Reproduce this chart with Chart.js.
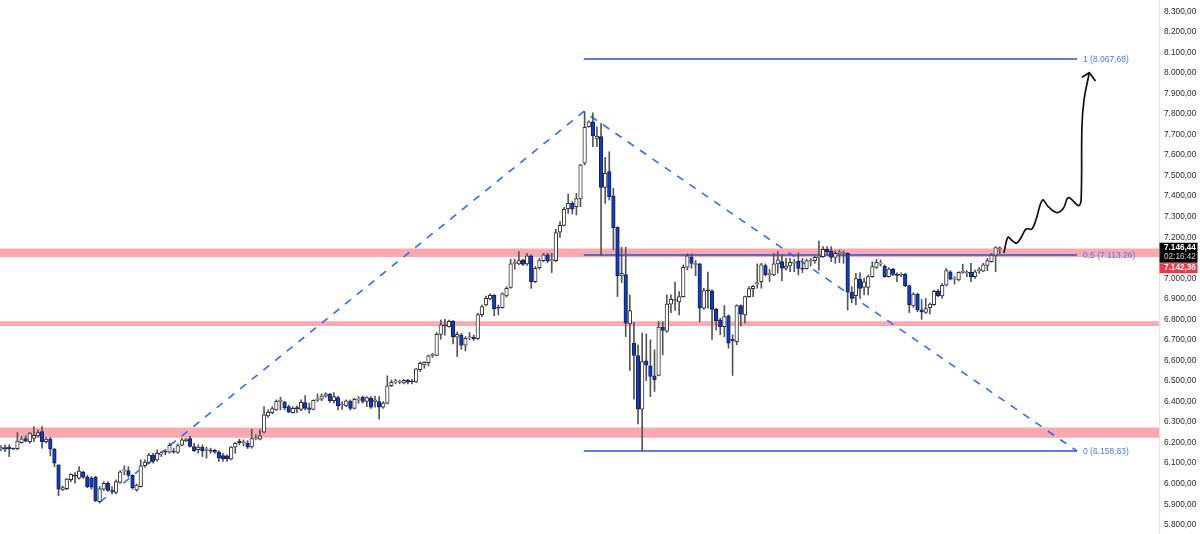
<!DOCTYPE html>
<html>
<head>
<meta charset="utf-8">
<style>
html, body { margin: 0; padding: 0; background: #fff; }
canvas { display: block; }
</style>
<script src="https://cdn.jsdelivr.net/npm/chart.js@4"></script>
</head>
<body>
<canvas id="chart" width="1200" height="534"></canvas>
<script>
const opens = [6171,6176,6178,6170,6170,6200,6220,6204,6220,6233,
6254,6204,6218,6169,6092,5970,5976,6019,6041,6027,
6056,6033,6027,6032,5913,5973,6002,5967,5957,6006,
6062,6064,6041,5970,5986,6088,6103,6139,6116,6145,
6156,6153,6158,6152,6187,6210,6220,6181,6165,6178,
6161,6163,6163,6153,6137,6135,6119,6178,6208,6200,
6197,6179,6218,6217,6251,6330,6346,6359,6401,6398,
6375,6346,6370,6362,6395,6369,6362,6406,6411,6426,
6435,6404,6419,6383,6379,6401,6367,6408,6421,6400,
6416,6400,6400,6372,6392,6477,6496,6494,6490,6503,
6499,6495,6555,6578,6589,6625,6625,6727,6773,6765,
6792,6713,6724,6674,6710,6714,6706,6823,6870,6899,
6917,6859,6857,6914,6955,7073,7070,7089,7070,7109,
6984,7052,7086,7114,7086,7086,7224,7258,7339,7365,
7349,7386,7560,7738,7762,7681,7690,7443,7519,7401,
7248,7011,7018,6778,6684,6624,6363,6598,6574,6525,
6527,6763,6742,6874,6892,6885,6911,7054,7103,7067,
7070,6854,6944,6939,6849,6798,6765,6817,6703,6692,
6867,6822,6911,6950,6974,6984,7062,7018,7017,7070,
7081,7048,7060,7074,7084,7050,7047,7084,7086,7102,
7105,7141,7134,7102,7121,7122,7121,6933,6915,6996,
6956,6956,7008,7053,7069,7060,7008,7045,7019,7015,
7021,6964,6865,6923,6846,6834,6857,6872,6938,6914,
6967,7032,6996,6992,7029,7026,7030,7008,7037,7035,
7063,7081,7112,7144];
const highs = [6186,6189,6189,6173,6249,6230,6233,6249,6278,6262,
6278,6225,6225,6173,6092,5989,6025,6048,6054,6083,
6061,6041,6035,6035,5986,6010,6010,5986,6019,6064,
6087,6083,6044,5999,6116,6116,6148,6148,6165,6156,
6168,6197,6173,6194,6221,6221,6230,6197,6189,6189,
6178,6173,6168,6161,6148,6140,6181,6200,6217,6213,
6210,6265,6238,6262,6376,6359,6375,6408,6421,6400,
6383,6375,6379,6408,6429,6392,6408,6437,6437,6443,
6440,6443,6427,6400,6408,6408,6416,6424,6427,6424,
6424,6427,6424,6400,6525,6505,6508,6505,6508,6508,
6508,6562,6593,6594,6627,6635,6736,6797,6800,6797,
6794,6739,6732,6716,6736,6724,6830,6870,6914,6924,
6920,6870,6930,6959,7093,7093,7130,7093,7122,7114,
7057,7097,7122,7122,7122,7239,7276,7345,7410,7373,
7414,7555,7811,7767,7806,7738,7754,7589,7616,7438,
7251,7151,7151,6919,6785,6676,6733,6729,6700,6652,
6789,6789,6919,6919,6981,6935,7065,7119,7119,7086,
7073,6952,7030,6944,6854,6806,6867,6822,6725,6871,
6871,6914,6960,6966,7070,7073,7070,7044,7122,7130,
7114,7097,7097,7092,7125,7097,7092,7097,7108,7181,
7154,7154,7154,7134,7138,7134,7125,6959,7024,7027,
7000,7016,7081,7092,7089,7065,7052,7048,7027,7027,
7024,6967,6930,6927,6897,6902,6881,6943,6946,6975,
7048,7037,7008,7032,7069,7037,7073,7040,7053,7073,
7097,7121,7154,7154];
const lows = [6161,6156,6132,6166,6165,6197,6204,6197,6205,6226,
6173,6197,6135,6083,5941,5967,5970,6010,6002,6022,
6025,5980,5973,5913,5905,5967,5962,5950,5950,6002,
6043,6032,5973,5963,5983,6080,6096,6100,6109,6132,
6140,6148,6148,6148,6184,6205,6178,6156,6148,6132,
6124,6148,6148,6108,6108,6108,6116,6148,6189,6184,
6171,6173,6213,6213,6247,6323,6340,6356,6359,6359,
6346,6343,6346,6356,6359,6343,6359,6400,6404,6421,
6395,6392,6359,6362,6375,6359,6364,6392,6392,6375,
6367,6372,6314,6367,6388,6473,6486,6486,6486,6486,
6486,6492,6546,6562,6573,6615,6622,6703,6723,6762,
6680,6619,6654,6646,6700,6697,6703,6813,6865,6895,
6817,6822,6854,6908,6951,7044,7065,7063,7063,6951,
6979,7044,7081,7076,7028,7081,7199,7255,7316,7313,
7308,7349,7552,7735,7641,7641,7113,7365,7381,7138,
6911,6979,6716,6551,6411,6291,6161,6502,6424,6449,
6525,6627,6736,6833,6843,6822,6908,7041,7049,7012,
6789,6849,6854,6703,6749,6725,6716,6660,6527,6676,
6768,6781,6908,6911,6952,6952,7012,6984,7012,7025,
6989,7040,7032,7032,7016,7027,7044,7060,7073,7040,
7102,7113,7081,7073,7076,7073,6846,6881,6870,6902,
6919,6919,7005,7048,7060,7005,7005,7013,6983,7008,
6959,6833,6859,6837,6800,6829,6826,6868,6910,6902,
6962,6992,6972,6987,7024,7008,6983,7000,7024,7032,
7037,7078,7032,7118];
const closes = [6176,6168,6170,6168,6207,6218,6207,6246,6236,6249,
6205,6217,6169,6100,5973,5981,6022,6045,6036,6061,
6032,5986,5983,5916,5976,6002,5967,5962,6010,6058,
6067,6040,5980,5993,6087,6105,6139,6108,6148,6148,
6153,6187,6153,6186,6213,6215,6182,6161,6178,6161,
6165,6158,6153,6124,6122,6121,6178,6197,6199,6204,
6178,6220,6221,6233,6335,6348,6366,6401,6403,6370,
6348,6367,6364,6396,6367,6362,6406,6408,6427,6437,
6404,6424,6380,6387,6403,6367,6411,6411,6400,6419,
6372,6408,6372,6392,6477,6494,6497,6496,6503,6494,
6495,6559,6586,6591,6623,6627,6727,6774,6768,6791,
6716,6727,6674,6708,6713,6706,6823,6862,6903,6917,
6852,6854,6924,6951,7070,7076,7086,7067,7109,6984,
7049,7089,7114,7084,7089,7222,7258,7336,7365,7336,
7388,7552,7735,7762,7694,7693,7443,7511,7397,7245,
7011,7024,6781,6843,6624,6363,6595,6577,6522,6505,
6762,6746,6874,6897,6895,6911,7054,7109,7073,7070,
6854,6940,6939,6848,6794,6765,6814,6684,6695,6867,
6825,6911,6950,6961,6978,7065,7017,7021,7070,7090,
7049,7060,7078,7078,7048,7045,7086,7087,7102,7105,
7141,7130,7102,7121,7125,7125,6932,6902,6999,6951,
6983,7008,7057,7078,7073,7008,7045,7019,7014,7017,
6964,6872,6923,6846,6836,6852,6875,6936,6915,6966,
7037,6996,7000,7029,7032,7029,7008,7032,7040,7065,
7086,7113,7149,7146];

const tickValues = [8300,8200,8100,8000,7900,7800,7700,7600,7500,7400,7300,7200,7100,7000,6900,6800,6700,6600,6500,6400,6300,6200,6100,6000,5900,5800];

// support zones, [top, bottom]
const zones = [[7145,7104],[6791,6768],[6273,6224]];

// fib levels and the zigzag they come from
const fibStart = 141.8;
const fibEnd = 261.8;
const fibLevels = [8067.68, 7113.26, 6158.83];
const fibNames = ['1 (8.067,68)', '0,5 (7.113,26)', '0 (6.158,83)'];
const zigzagX = [24.1, 141.8, 261.8];
const zigzagY = [5911, 7812, 6158.83];

// hand drawn arrow
const arrowX = [244,245,246,247.1,248.1,249.4,250.8,251.8,253.4,254.8,256.9,258.5,259.7,262.2,262.8,263,263.5,264.8];
const arrowY = [7123,7200,7184,7171,7195,7240,7240,7284,7381,7349,7320,7341,7393,7354,7381,7738,7868,8001];
const headX = [263,264.8,266.3];
const headY = [7979,8001,7961];

const lastPrice = 7146.44;
const lastPriceText = '7.146,44';
const countdownText = '02:16:42';
const askText = '7.142,36';

const BLUE_LINE = '#2a54d6';
const BLUE_DASH = '#2f6bff';
const BLUE_TEXT = '#4c78ff';
const ZONE = '#fba9b1';

const fmt = v => v.toLocaleString('de-DE', { minimumFractionDigits: 2, maximumFractionDigits: 2 });
const isUp = i => closes[i] >= opens[i];
const pairs = (xs, ys) => xs.map((x, i) => ({ x: x, y: ys[i] }));

const datasets = [];

// order: higher numbers get drawn first
datasets.push({
    label: 'body',
    order: 0,
    data: opens.map((o, i) => ({ x: i, y: [o, closes[i]] })),
    backgroundColor: opens.map((o, i) => isUp(i) ? '#ffffff' : '#0a3cc8'),
    borderColor: opens.map((o, i) => isUp(i) ? '#333333' : '#14205a'),
    borderWidth: 1,
    borderSkipped: false,
    barThickness: 3.6,
    minBarLength: 1,
    grouped: false
});
datasets.push({
    label: 'wick',
    order: 1,
    data: lows.map((l, i) => ({ x: i, y: [l, highs[i]] })),
    backgroundColor: '#555555',
    borderWidth: 0,
    barThickness: 1,
    grouped: false
});

zones.forEach(z => {
    datasets.push({
        type: 'line',
        order: 6,
        data: pairs([-1, 283], [z[0], z[0]]),
        borderWidth: 0,
        pointRadius: 0,
        backgroundColor: ZONE,
        fill: { value: z[1] }
    });
});

fibLevels.forEach(v => {
    datasets.push({
        type: 'line',
        order: 3,
        data: pairs([fibStart, fibEnd], [v, v]),
        borderColor: BLUE_LINE,
        borderWidth: 1.4,
        pointRadius: 0
    });
});

datasets.push({
    type: 'line',
    order: 4,
    data: pairs(zigzagX, zigzagY),
    borderColor: BLUE_DASH,
    borderWidth: 1.6,
    borderDash: [7.5, 7.5],
    pointRadius: 0
});

datasets.push({
    type: 'line',
    order: 0,
    data: pairs(arrowX, arrowY),
    borderColor: '#111111',
    borderWidth: 1.7,
    tension: 0.35,
    pointRadius: 0
});
datasets.push({
    type: 'line',
    order: 0,
    data: pairs(headX, headY),
    borderColor: '#111111',
    borderWidth: 1.7,
    pointRadius: 0
});

const labelsPlugin = {
    id: 'labels',
    afterDraw(chart) {
        const ctx = chart.ctx;
        const xs = chart.scales.x;
        const ys = chart.scales.y;
        ctx.save();
        ctx.textBaseline = 'middle';

        // fib labels
        ctx.font = '8.5px "Liberation Sans"';
        ctx.fillStyle = BLUE_TEXT;
        ctx.textAlign = 'left';
        fibLevels.forEach((v, i) => {
            ctx.fillText(fibNames[i], xs.getPixelForValue(fibEnd) + 6, ys.getPixelForValue(v) + 0.5);
        });

        // price tags
        const py = ys.getPixelForValue(lastPrice);
        const left = chart.chartArea.right + 0.5;
        ctx.fillStyle = '#000000';
        ctx.fillRect(left, py - 5.5, 38, 20);
        ctx.fillStyle = '#f23645';
        ctx.fillRect(left, py + 15, 38, 10);
        ctx.textAlign = 'left';
        ctx.font = 'bold 8.2px "Liberation Sans"';
        ctx.fillStyle = '#ffffff';
        ctx.fillText(lastPriceText, left + 4.5, py - 0.5);
        ctx.font = '8.2px "Liberation Sans"';
        ctx.fillStyle = '#cfcfcf';
        ctx.fillText(countdownText, left + 4.5, py + 9);
        ctx.font = 'bold 8.2px "Liberation Sans"';
        ctx.fillStyle = '#ffffff';
        ctx.fillText(askText, left + 4.5, py + 20);
        ctx.restore();
    }
};

new Chart(document.getElementById('chart'), {
    type: 'bar',
    data: { datasets: datasets },
    plugins: [labelsPlugin],
    options: {
        responsive: false,
        animation: false,
        events: [],
        layout: { padding: 0, autoPadding: false },
        plugins: { legend: { display: false }, tooltip: { enabled: false } },
        scales: {
            x: {
                type: 'linear',
                offset: false,
                display: false,
                min: -0.243,
                max: 281.75
            },
            y: {
                type: 'linear',
                position: 'right',
                min: 5755,
                max: 8355,
                grid: { display: false, drawTicks: false },
                border: { display: true, color: '#fbdcdc', width: 1 },
                afterFit(scale) {
                    // full height axis, no room reserved for the end labels
                    scale.width = 41;
                    scale.paddingTop = 0;
                    scale.paddingBottom = 0;
                },
                afterBuildTicks(scale) { scale.ticks = tickValues.map(v => ({ value: v })); },
                ticks: {
                    padding: 5,
                    font: { family: '"Liberation Sans"', size: 8.3 },
                    color: '#2a2a2a',
                    callback: v => fmt(v)
                }
            }
        }
    }
});
</script>
</body>
</html>
